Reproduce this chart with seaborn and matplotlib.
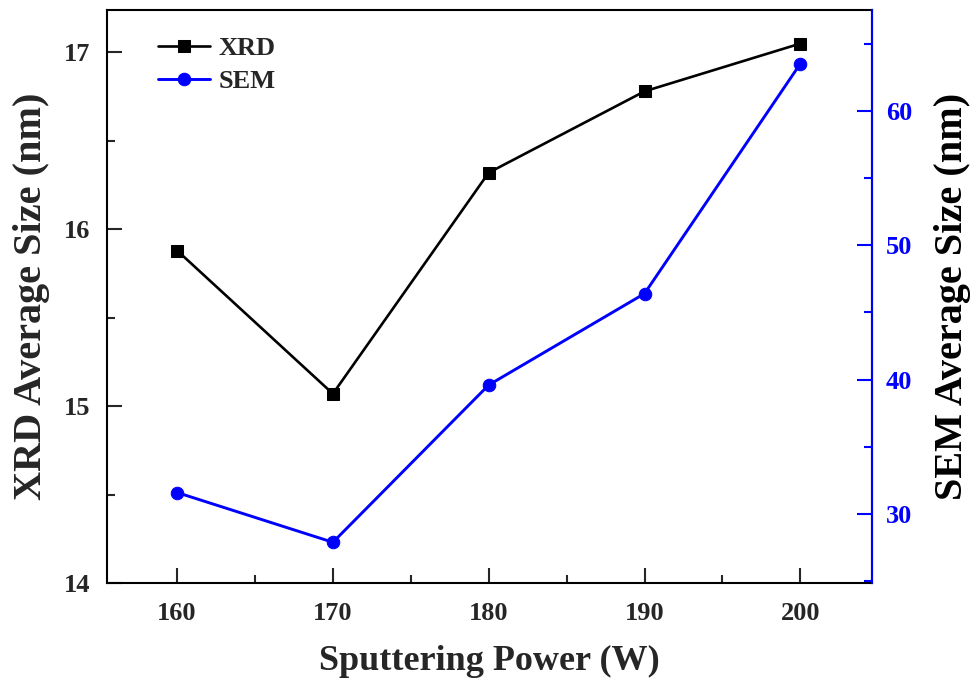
import matplotlib
matplotlib.use("Agg")
import matplotlib.pyplot as plt
from matplotlib.ticker import MultipleLocator
import seaborn as sns
import pandas as pd

power = [160, 170, 180, 190, 200]
xrd_size = [15.88, 15.07, 16.32, 16.78, 17.05]
sem_size = [31.6, 27.9, 39.6, 46.4, 63.5]
x_ticks = [160, 170, 180, 190, 200]
left_ticks = [14, 15, 16, 17]
right_ticks = [30, 40, 50, 60]

sns.set_style("ticks")
plt.rcParams['font.family'] = ['Liberation Serif', 'DejaVu Serif']
plt.rcParams['font.weight'] = 'bold'
plt.rcParams['axes.labelweight'] = 'bold'

df = pd.DataFrame({"power": power, "xrd": xrd_size, "sem": sem_size})

fig = plt.figure(figsize=(9.77, 6.88), dpi=100)
ax = fig.add_axes([0.1095, 0.1526, 0.783, 0.8329])
ax2 = ax.twinx()

sns.lineplot(data=df, x="power", y="xrd", ax=ax, color="black", marker="s",
             markersize=8, markeredgecolor="black", linewidth=1.9, label="XRD", legend=False)
sns.lineplot(data=df, x="power", y="sem", ax=ax2, color="#0000ff", marker="o",
             markersize=9, markeredgecolor="#0000ff", linewidth=2.1, label="SEM", legend=False)

ax.set_xlim(155.5, 204.6)
ax.set_ylim(14, 17.24)
ax2.set_ylim(24.87, 67.5)

ax.set_xticks(x_ticks)
ax.set_yticks(left_ticks)
ax2.set_yticks(right_ticks)
ax.xaxis.set_minor_locator(MultipleLocator(5))
ax.yaxis.set_minor_locator(MultipleLocator(0.5))
ax2.yaxis.set_minor_locator(MultipleLocator(5))

ax.tick_params(axis='both', which='major', direction='in', length=11, width=1.5,
               labelsize=19)
ax.tick_params(axis='x', which='major', pad=14)
ax.tick_params(axis='y', which='major', pad=12)
ax.tick_params(axis='both', which='minor', direction='in', length=6, width=1.5)
ax.tick_params(axis='x', which='both', top=False)
ax2.tick_params(axis='y', which='major', direction='in', length=11, width=1.5,
                labelsize=19, colors="#0000ff", pad=10)
ax2.tick_params(axis='y', which='minor', direction='in', length=6, width=1.5,
                colors="#0000ff")

for lbl in ax.get_xticklabels() + ax.get_yticklabels() + ax2.get_yticklabels():
    lbl.set_fontweight('bold')

for sp in ax.spines.values():
    sp.set_linewidth(1.5)
    sp.set_color("black")
for sp in ax2.spines.values():
    sp.set_linewidth(1.5)
ax2.spines['right'].set_color("#0000ff")
ax2.spines['left'].set_visible(False)
ax2.spines['top'].set_visible(False)
ax2.spines['bottom'].set_visible(False)

ax.set_xlabel("Sputtering Power (W)", fontsize=26, fontweight='bold', labelpad=14)
ax.set_ylabel("XRD Average Size (nm)", fontsize=29, fontweight='bold', labelpad=10)
ax2.set_ylabel("SEM Average Size (nm)", fontsize=29, fontweight='bold', labelpad=16,
               color="black")

h1, l1 = ax.get_legend_handles_labels()
h2, l2 = ax2.get_legend_handles_labels()
leg = ax.legend(h1 + h2, l1 + l2, loc="upper left", bbox_to_anchor=(0.035, 0.995),
                frameon=False, prop={'weight': 'bold', 'size': 19},
                handlelength=2.0, handletextpad=0.3, labelspacing=0.35)

fig.savefig("out.png", dpi=100)
